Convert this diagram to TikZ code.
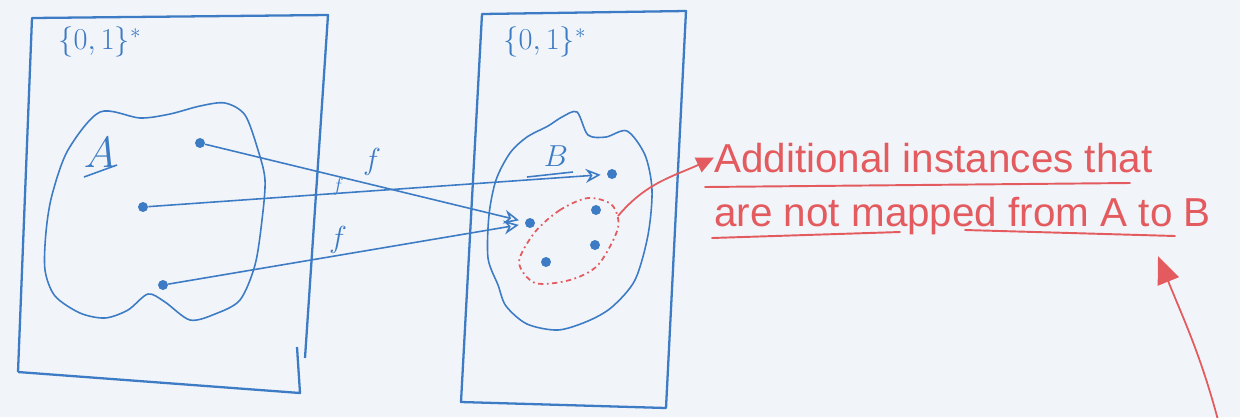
\documentclass[tikz,border=0pt]{standalone}
\usepackage{fontspec}
\setsansfont{Liberation Sans}
\usetikzlibrary{arrows.meta}
\definecolor{SketchBlue}{HTML}{3D7BC4}
\definecolor{SketchRed}{HTML}{E35B5E}
\definecolor{SketchPaper}{HTML}{F1F5FA}
\tikzset{frame/.style={draw=SketchBlue,line width=1.3pt,line join=round},
blob/.style={draw=SketchBlue,line width=0.9pt},
dot/.style={circle,fill=SketchBlue,inner sep=0pt,minimum size=2mm},
map/.style={-{Stealth[open,length=3mm,width=2.8mm]},draw=SketchBlue,line width=0.9pt,shorten >=1.2mm},
tag/.style={text=SketchBlue,inner sep=0pt},
note/.style={text=SketchRed,font=\sffamily\fontsize{23}{28}\selectfont,inner sep=0pt,anchor=base west},
pointer/.style={-{Triangle[length=3.5mm,width=3.2mm]},draw=SketchRed,line width=1pt},
underline/.style={draw=SketchRed,line width=1.1pt,line cap=round}}

\begin{document}
\begin{tikzpicture}[x=0.02cm,y=-0.02cm]
\fill[SketchPaper](0,0)rectangle(1240,417);
\useasboundingbox(0,0)rectangle(1240,417);
% the two universes {0,1}^*
\draw[frame](18,372)--(32,18)--(328,15)--(305,358);\draw[frame](297,347)--(300,393)--(18,372);
\draw[frame](482,14)--(686,11)--(666,408)--(461,402)--cycle;
\node[tag,font=\fontsize{18}{20}\selectfont](univA)at(100,42){$\{0,1\}^*$};
\node[tag,font=\fontsize{18}{20}\selectfont](univB)at(545,42){$\{0,1\}^*$};
% set A and set B
\draw[blob]plot[smooth cycle]coordinates{(100,112)(140,118)(170,114)(200,106)(225,103)(245,115)(258,150)(265,180)(262,220)(255,265)(240,300)(215,314)(190,320)(165,302)(148,294)(128,310)(105,318)(80,313)(55,296)(45,270)(46,232)(52,195)(68,150)};
\draw[blob]plot[smooth cycle]coordinates{(527,137)(548,126)(562,117)(577,112)(588,135)(606,137)(627,131)(645,155)(652,190)(648,235)(635,280)(612,307)(588,321)(558,330)(527,324)(506,306)(498,285)(488,258)(489,215)(496,180)(510,153)};
\node[tag,font=\fontsize{24}{28}\selectfont](labA)at(100,153){$A$};
\draw[blob](84,177)--(117,165);
\node[tag,font=\fontsize{17}{20}\selectfont](labB)at(556,156){$B$};
\draw[blob](527,177)--(573,172);
% elements
\node[dot](a1)at(200,143){};
\node[dot](a2)at(143,207){};
\node[dot](a3)at(163,285){};
\node[dot](b1)at(612,174){};
\node[dot](b2)at(530,223){};
\node[dot](b3)at(596,210){};
\node[dot](b4)at(595,245){};
\node[dot](b5)at(546,262){};
% the map f
\draw[map](a1)--(b2);
\draw[map](a2)--(b1);
\draw[map](a3)--(b2);
\node[tag,font=\fontsize{18}{20}\selectfont]at(372,162){$f$};
\node[tag,font=\fontsize{11}{13}\selectfont]at(338,187){$f$};
\node[tag,font=\fontsize{18}{20}\selectfont]at(338,240){$f$};
% the instances outside the image of f
\draw[draw=SketchRed,line width=1pt,dash dot]plot[smooth cycle]coordinates{(588,198)(560,210)(535,232)(519,262)(535,283)(570,280)(598,265)(618,228)(612,205)};
\coordinate(loop)at(618,216);
\node[note](extra1)at(714,172){Additional instances that};
\node[note](extra2)at(714,226){are not mapped from A to B};
\draw[pointer](loop)to[out=50,in=205](extra1.west);
\draw[underline](705,187)--(1130,183);
\draw[underline](712,238)--(900,232);
\draw[underline](965,230)--(1175,236);
\coordinate(off)at(1218,420);
\coordinate(tip)at(1158,256);
\draw[pointer,-{Triangle[length=5.5mm,width=4.5mm]}](off)to[out=105,in=-68](tip);
\end{tikzpicture}
\end{document}
